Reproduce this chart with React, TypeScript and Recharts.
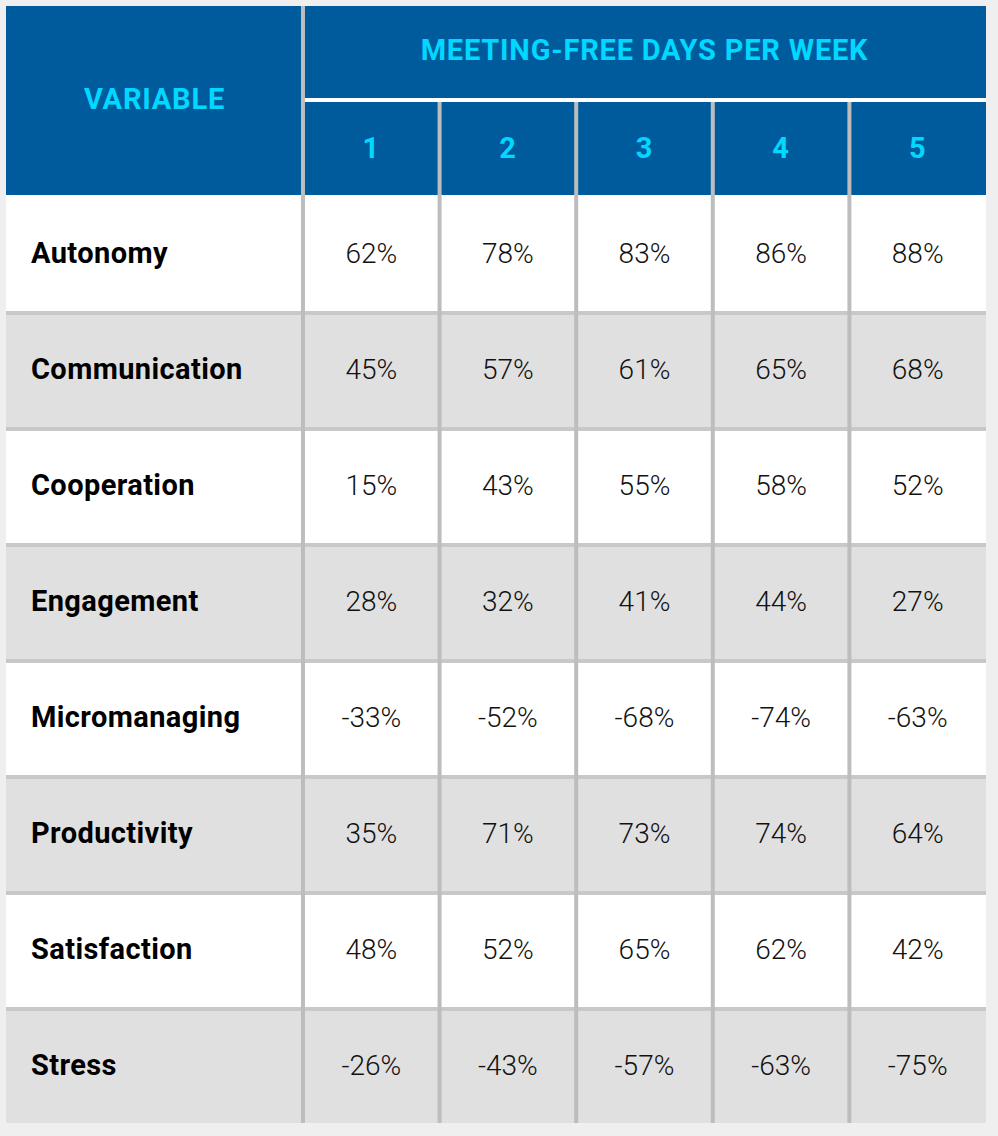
import React from 'react';
import { ComposedChart, XAxis, YAxis, ReferenceArea, ReferenceLine } from 'recharts';

// ---------- data ----------
const title = 'MEETING-FREE DAYS PER WEEK';
const variableHeader = 'VARIABLE';
const days = ['1', '2', '3', '4', '5'];
const variables = ['Autonomy', 'Communication', 'Cooperation', 'Engagement', 'Micromanaging', 'Productivity', 'Satisfaction', 'Stress'];
const autonomy = [62, 78, 83, 86, 88];
const communication = [45, 57, 61, 65, 68];
const cooperation = [15, 43, 55, 58, 52];
const engagement = [28, 32, 41, 44, 27];
const micromanaging = [-33, -52, -68, -74, -63];
const productivity = [35, 71, 73, 74, 64];
const satisfaction = [48, 52, 65, 62, 42];
const stress = [-26, -43, -57, -63, -75];
const values = [autonomy, communication, cooperation, engagement, micromanaging, productivity, satisfaction, stress];

// ---------- layout (data units: 1 column width, 1 row height) ----------
const X0 = -2.174; // width of the variable column in column units
const SUB = 0.81; // header split line
const HEAD = 1.629; // header bottom
const LINE_OFF = 0.017; // half of a separator line, in row units
const YMAX = HEAD + variables.length;

const BLUE = '#005b9c';
const CYAN = '#00d8ff';
const FONT = 'Roboto, sans-serif';

const rows = variables.map((v, i) => ({ name: v, vals: values[i] }));

export default function App() {
  const headerLabel = (value: string) => ({
    value,
    position: 'center' as const,
    fill: CYAN,
    fontSize: 29,
    fontWeight: 700,
    fontFamily: FONT,
    letterSpacing: 0.8,
  });
  return (
    <div style={{ position: 'absolute', left: 0, top: 0, width: 998, height: 1136, background: '#efefef' }}>
      <ComposedChart width={998} height={1136} data={rows} margin={{ top: 6, right: 12, bottom: 13, left: 6 }}>
        <XAxis type="number" dataKey="x" domain={[X0, 5]} hide allowDataOverflow />
        <YAxis type="number" domain={[0, YMAX]} reversed hide allowDataOverflow />

        {/* header */}
        <ReferenceArea x1={X0} x2={5} y1={0} y2={HEAD} fill={BLUE} fillOpacity={1} stroke="none" ifOverflow="visible" />
        <ReferenceArea x1={X0} x2={0} y1={0} y2={HEAD - 0.03} fill={BLUE} fillOpacity={0} stroke="none" ifOverflow="visible" label={headerLabel(variableHeader)} />
        <ReferenceArea x1={0} x2={5} y1={0} y2={SUB - 0.05} fill={BLUE} fillOpacity={0} stroke="none" ifOverflow="visible" label={headerLabel(title)} />
        {days.map((d, k) => (
          <ReferenceArea key={'h' + d} x1={k} x2={k + 1} y1={SUB} y2={HEAD} fill={BLUE} fillOpacity={0} stroke="none" ifOverflow="visible" label={headerLabel(d)} />
        ))}

        {/* body rows */}
        {rows.map((r, i) => (
          <ReferenceArea
            key={'n' + r.name}
            x1={X0}
            x2={0}
            y1={HEAD + i}
            y2={HEAD + i + 1}
            fill={i % 2 === 0 ? '#ffffff' : '#e0e0e0'}
            fillOpacity={1}
            stroke="none"
            ifOverflow="visible"
            label={{ value: r.name, position: 'insideLeft', offset: 25, fill: '#000', fontSize: 29, fontWeight: 700, fontFamily: FONT, letterSpacing: 0.4 }}
          />
        ))}
        {rows.map((r, i) =>
          r.vals.map((v, k) => (
            <ReferenceArea
              key={'c' + i + '-' + k}
              x1={k}
              x2={k + 1}
              y1={HEAD + i}
              y2={HEAD + i + 1}
              fill={i % 2 === 0 ? '#ffffff' : '#e0e0e0'}
              fillOpacity={1}
              stroke="none"
              ifOverflow="visible"
              label={{ value: v + '%', position: 'center', fill: '#111', fontSize: 28, fontWeight: 300, fontFamily: FONT }}
            />
          ))
        )}

        {/* row separators */}
        {rows.slice(1).map((r, i) => (
          <ReferenceLine key={'hl' + r.name} y={HEAD + i + 1 + LINE_OFF} stroke="#c8c8c8" strokeWidth={4} ifOverflow="visible" />
        ))}
        {/* column separators */}
        {days.slice(1).map((d, k) => (
          <ReferenceLine
            key={'vl' + d}
            segment={[{ x: k + 1, y: SUB }, { x: k + 1, y: YMAX }]}
            stroke="#bdbdbd"
            strokeWidth={4}
            ifOverflow="visible"
          />
        ))}
        <ReferenceLine segment={[{ x: 0, y: SUB }, { x: 5, y: SUB }]} stroke="#ffffff" strokeWidth={4} ifOverflow="visible" />
        <ReferenceLine x={0} stroke="#bdbdbd" strokeWidth={4} ifOverflow="visible" />
      </ComposedChart>
    </div>
  );
}
